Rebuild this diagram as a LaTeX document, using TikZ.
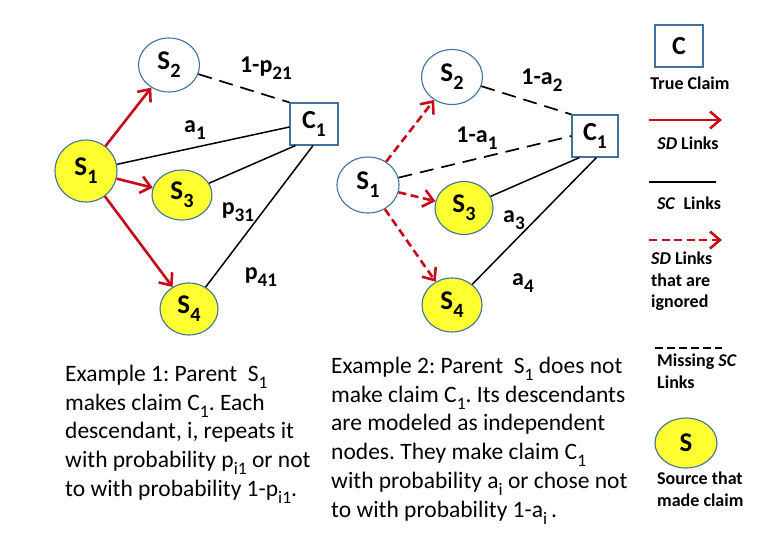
\documentclass[tikz,border=0pt]{standalone}
\usepackage{fontspec}
\setmainfont{Carlito}
\usetikzlibrary{shapes.geometric,arrows.meta}
\definecolor{nodeblue}{RGB}{65,113,156}
\definecolor{srcyellow}{RGB}{255,255,50}
\definecolor{sdred}{RGB}{200,10,25}
\newcommand\mysub[1]{\raisebox{-0.3em}{\scalebox{0.75}{#1}}}
\newcommand\elsub[1]{\raisebox{-0.28em}{\scalebox{0.8}{#1}}}
\frenchspacing
\begin{document}
\begin{tikzpicture}[x=1pt,y=-1pt,
  src/.style={ellipse, draw=nodeblue, line width=1.1pt, fill=white, inner sep=0pt,
    font=\fontsize{27}{30}\selectfont\bfseries},
  made/.style={src, fill=srcyellow},
  claim/.style={rectangle, draw=nodeblue, line width=1.1pt, fill=white, inner sep=0pt,
    font=\fontsize{26}{30}\selectfont\bfseries},
  sd/.style={draw=sdred, line width=2.6pt, -{Straight Barb[length=10pt,width=17pt]}},
  sdign/.style={sd, dash pattern=on 8pt off 4.5pt},
  sc/.style={draw=black, line width=1.5pt},
  miss/.style={sc, line width=1.7pt, dash pattern=on 14pt off 8pt},
  elab/.style={font=\fontsize{24}{28}\selectfont\bfseries, inner sep=0pt},
  legtext/.style={font=\fontsize{18}{21.5}\selectfont\bfseries, inner sep=0pt, align=left},
  body/.style={font=\fontsize{23.5}{28.7}\selectfont, inner sep=0pt, align=left}]
\useasboundingbox (0,0) rectangle (776,538);

% ---------- Example 1 ----------
\node[made, minimum width=62pt, minimum height=62pt] (L1) at (86,171) {S\mysub{1}};
\node[src,  minimum width=61pt, minimum height=54pt] (L2) at (169,65) {S\mysub{2}};
\node[made, minimum width=60pt, minimum height=50pt] (L3) at (182,195) {S\mysub{3}};
\node[made, minimum width=58pt, minimum height=52pt] (L4) at (189,309) {S\mysub{4}};
\node[claim, minimum width=48pt, minimum height=42pt] (LC) at (314,124) {C\mysub{1}};

\draw[sd] (L1) -- (L2);
\draw[sd] (L1) -- (L3);
\draw[sd] (L1) -- (L4);
\draw[sc] (L1) -- ([yshift=-3pt]LC.west);
\draw[sc] (L3) -- ([xshift=6pt]LC.south west);
\draw[sc] (L4) -- ([xshift=-1pt]LC.south);
\draw[miss] (L2) -- (LC.north west);

\node[elab] (l21) at (266,68) {1-p\elsub{21}};
\node[elab] (la1) at (195,130) {a\elsub{1}};
\node[elab] (l31) at (238,212) {p\elsub{31}};
\node[elab] (l41) at (261,277) {p\elsub{41}};

% ---------- Example 2 ----------
\node[src,  minimum width=62pt, minimum height=56pt] (R1) at (368,185) {S\mysub{1}};
\node[src,  minimum width=61pt, minimum height=55pt] (R2) at (452,77) {S\mysub{2}};
\node[made, minimum width=58pt, minimum height=53pt] (R3) at (464,208) {S\mysub{3}};
\node[made, minimum width=60pt, minimum height=54pt] (R4) at (452,305) {S\mysub{4}};
\node[claim, minimum width=46pt, minimum height=42pt] (RC) at (595,136) {C\mysub{1}};

\draw[sdign] (R1) -- (R2);
\draw[sdign] (R1) -- (R3);
\draw[sdign] (R1) -- (R4);
\draw[miss] (R1) -- (RC.west);
\draw[miss] (R2) -- (RC.north west);
\draw[sc] (R3) -- ([xshift=8pt]RC.south west);
\draw[sc] (R4) -- ([xshift=25pt]RC.south west);

\node[elab] (ra2) at (542,80) {1-a\elsub{2}};
\node[elab] (ra1) at (477,138) {1-a\elsub{1}};
\node[elab] (ra3) at (514,220) {a\elsub{3}};
\node[elab] (ra4) at (523,283) {a\elsub{4}};

% ---------- Captions ----------
\node[body, anchor=north west] (cap1) at (65,365) {Example 1: Parent\ \ S\mysub{1}\\makes claim C\mysub{1}. Each\\descendant, i, repeats it\\with probability p\mysub{i1} or not\\to with probability 1-p\mysub{i1}.};
\node[body, anchor=north west] (cap2) at (331,357) {Example 2: Parent\ \ S\mysub{1} does not\\make claim C\mysub{1}. Its descendants\\are modeled as independent\\nodes. They make claim C\mysub{1}\\with probability a\mysub{i} or chose not\\to with probability 1-a\mysub{i}\,.};

% ---------- Legend ----------
\node[claim, minimum width=48pt, minimum height=42pt] (legC) at (679,46) {C};
\node[legtext] (tTrue) at (690,83) {True Claim};

\coordinate (sdA) at (649,120);
\coordinate (sdB) at (722,120);
\draw[sd] (sdA) -- (sdB);
\node[legtext] (tSD) at (688,143) {\textit{SD} Links};

\coordinate (scA) at (649,182);
\coordinate (scB) at (716,182);
\draw[sc] (scA) -- (scB);
\node[legtext] (tSC) at (689,203) {\textit{SC}\ \ Links};

\coordinate (igA) at (649,240);
\coordinate (igB) at (722,240);
\draw[sdign] (igA) -- (igB);
\node[legtext, anchor=north west] (tIg) at (651,252) {\textit{SD} Links\\that are\\ignored};

\coordinate (msA) at (655,348);
\coordinate (msB) at (722,348);
\draw[sc, dash pattern=on 8pt off 4pt] (msA) -- (msB);
\node[legtext, anchor=north west] (tMs) at (657,354) {Missing \textit{SC}\\Links};

\node[made, minimum width=62pt, minimum height=50pt] (legS) at (686,443) {S};
\node[legtext, anchor=north west] (tSrc) at (657,472) {Source that\\made claim};
\end{tikzpicture}
\end{document}
